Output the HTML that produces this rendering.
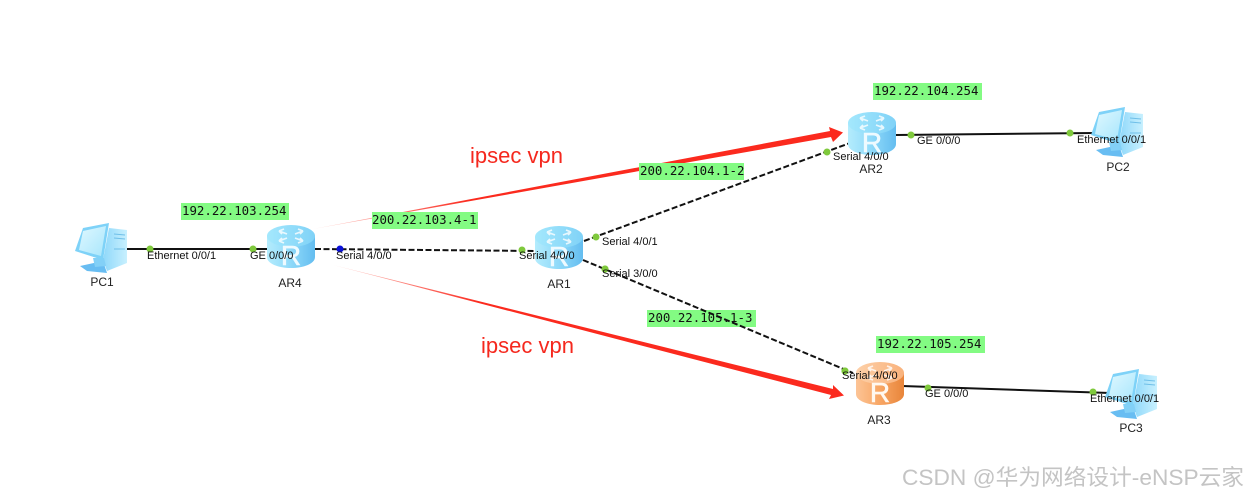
<!DOCTYPE html>
<html>
<head>
<meta charset="utf-8">
<style>
html,body{margin:0;padding:0;background:#fff;width:1248px;height:496px;overflow:hidden}
svg{display:block}
.l{font-family:"Liberation Sans",sans-serif;font-size:11px;fill:#111}
.n{font-family:"Liberation Sans",sans-serif;font-size:12px;fill:#222}
.m{font-family:"DejaVu Sans Mono","Liberation Mono",monospace;font-size:12.4px;fill:#111}
.v{font-family:"Liberation Sans",sans-serif;font-size:22px;fill:#f5281e}
</style>
</head>
<body>
<svg width="1248" height="496" viewBox="0 0 1248 496" xmlns="http://www.w3.org/2000/svg">
<defs>
<linearGradient id="bt" x1="0" y1="0" x2="1" y2="0"><stop offset="0" stop-color="#a4e8fd"/><stop offset="1" stop-color="#80d2f7"/></linearGradient>
<linearGradient id="bb" x1="0" y1="0" x2="1" y2="0"><stop offset="0" stop-color="#b4ecfd"/><stop offset=".5" stop-color="#8ed9f9"/><stop offset="1" stop-color="#64bdf0"/></linearGradient>
<linearGradient id="ot" x1="0" y1="0" x2="1" y2="0"><stop offset="0" stop-color="#fdd0a8"/><stop offset="1" stop-color="#f9b27c"/></linearGradient>
<linearGradient id="ob" x1="0" y1="0" x2="1" y2="0"><stop offset="0" stop-color="#fcc496"/><stop offset=".5" stop-color="#f8a664"/><stop offset="1" stop-color="#e8853a"/></linearGradient>
<linearGradient id="scr" x1="0" y1="0" x2="1" y2="1"><stop offset="0" stop-color="#dff8ff"/><stop offset="1" stop-color="#a8e6fc"/></linearGradient>
<linearGradient id="tw" x1="0" y1="0" x2="1" y2="0"><stop offset="0" stop-color="#8fd8fa"/><stop offset="1" stop-color="#c8f0fe"/></linearGradient>
<linearGradient id="au" gradientUnits="userSpaceOnUse" x1="313" y1="229" x2="470" y2="200"><stop offset="0" stop-color="#ffd8d4"/><stop offset="1" stop-color="#fb2a1e"/></linearGradient>
<linearGradient id="al" gradientUnits="userSpaceOnUse" x1="333" y1="265" x2="480" y2="302"><stop offset="0" stop-color="#ffd8d4"/><stop offset="1" stop-color="#fb2a1e"/></linearGradient>
<g id="arrows" fill="none" stroke="#fff" stroke-width="1.7" opacity=".8">
<path d="M-4 -12L-12 -15M-12 -15L-7 -17M-12 -15L-9 -12"/>
<path d="M4 -12L12 -15M12 -15L7 -17M12 -15L9 -12"/>
<path d="M-4 -8L-12 -5M-12 -5L-7 -3M-12 -5L-9 -8"/>
<path d="M4 -8L12 -5M12 -5L7 -3M12 -5L9 -8"/>
</g>
<g id="rb">
<path d="M-24 -10V11C-24 18 -12 22 0 22S24 18 24 11V-10Z" fill="url(#bb)"/>
<ellipse cx="0" cy="-10" rx="24" ry="11" fill="url(#bt)"/>
<use href="#arrows"/>
<text x="0" y="19" text-anchor="middle" font-family="Liberation Sans,sans-serif" font-size="28" fill="#eefaff" stroke="#eefaff" stroke-width=".6">R</text>
</g>
<g id="ro">
<path d="M-24 -10V11C-24 18 -12 22 0 22S24 18 24 11V-10Z" fill="url(#ob)"/>
<ellipse cx="0" cy="-10" rx="24" ry="11" fill="url(#ot)"/>
<use href="#arrows"/>
<text x="0" y="19" text-anchor="middle" font-family="Liberation Sans,sans-serif" font-size="28" fill="#fff8f0" stroke="#fff8f0" stroke-width=".6">R</text>
</g>
<g id="pc">
<polygon points="9,-20 27,-18 27,15 7,23 3,12" fill="url(#tw)"/>
<path d="M14 -14L25 -13M14 -10L25 -9M14 1L25 1" stroke="#6fbfe8" stroke-width="1"/>
<polygon points="-20,18 3,13 7,25 -13,23" fill="#68bdf2"/>
<polygon points="-7,10 4,10 6,18 -5,19" fill="#82d0f7"/>
<polygon points="-17,-20 9,-25 3,12 -25,3" fill="#7ed2f8"/>
<polygon points="-17,-17 6,-22 1,8 -21,2" fill="url(#scr)"/>
</g>
</defs>

<!-- links -->
<g stroke="#111" fill="none">
<line x1="127" y1="249" x2="270" y2="249" stroke-width="2"/>
<line x1="315" y1="249" x2="537" y2="251" stroke-width="2" stroke-dasharray="6 2.5"/>
<line x1="584" y1="241" x2="850" y2="143" stroke-width="2" stroke-dasharray="6 2.5"/>
<line x1="896" y1="135" x2="1095" y2="133" stroke-width="2"/>
<line x1="902" y1="386" x2="1110" y2="393" stroke-width="2"/>
</g>

<!-- routers -->
<use href="#rb" x="291" y="246"/>
<use href="#rb" x="559" y="247"/>
<use href="#rb" x="872" y="133"/>
<use href="#ro" x="880" y="383"/>

<!-- PCs -->
<use href="#pc" x="100" y="248"/>
<use href="#pc" x="1116" y="132"/>
<use href="#pc" x="1130" y="394"/>

<!-- green port dots -->
<g fill="#7fc93c">
<circle cx="150" cy="249" r="3.5"/>
<circle cx="253" cy="249" r="3.5"/>
<circle cx="522" cy="250" r="3.5"/>
<circle cx="596" cy="237" r="3.5"/>
<circle cx="605" cy="269" r="3.5"/>
<circle cx="827" cy="152" r="3.5"/>
<circle cx="911" cy="135" r="3.5"/>
<circle cx="1070" cy="133" r="3.5"/>
<circle cx="845" cy="371" r="3.5"/>
<circle cx="928" cy="388" r="3.5"/>
<circle cx="1093" cy="392" r="3.5"/>
</g>
<circle cx="340" cy="249" r="3.5" fill="#0a10d8"/>

<!-- ipsec arrows -->
<polygon points="313,229 830,131 829,127 843,132.5 833,142 831,137" fill="url(#au)"/>
<polygon points="333,265 833,389 833,385 844,395.5 829,399 831,395" fill="url(#al)"/>

<!-- green labels -->
<g fill="#83fb83">
<rect x="181" y="203" width="108" height="17"/>
<rect x="372" y="212" width="106" height="17"/>
<rect x="639" y="163" width="105" height="17"/>
<rect x="873" y="83" width="109" height="17"/>
<rect x="647" y="310" width="109" height="17"/>
<rect x="876" y="336" width="109" height="17"/>
</g>
<g>
<text x="182" y="215" class="m">192.22.103.254</text>
<text x="372" y="224" class="m">200.22.103.4-1</text>
<text x="640" y="175" class="m">200.22.104.1-2</text>
<text x="874" y="95" class="m">192.22.104.254</text>
<text x="648" y="322" class="m">200.22.105.1-3</text>
<text x="877" y="348" class="m">192.22.105.254</text>
</g>
<line x1="583" y1="260" x2="853" y2="373" stroke="#111" fill="none" stroke-width="2" stroke-dasharray="6 2.5"/>
<circle cx="845" cy="371" r="3.5" fill="#7fc93c"/>
<circle cx="605" cy="269" r="3.5" fill="#7fc93c"/>

<!-- interface labels -->
<text x="147" y="259" class="l">Ethernet 0/0/1</text>
<text x="250" y="259" class="l">GE 0/0/0</text>
<text x="336" y="259" class="l">Serial 4/0/0</text>
<text x="519" y="259" class="l">Serial 4/0/0</text>
<text x="602" y="245" class="l">Serial 4/0/1</text>
<text x="602" y="277" class="l">Serial 3/0/0</text>
<text x="833" y="160" class="l">Serial 4/0/0</text>
<text x="917" y="144" class="l">GE 0/0/0</text>
<text x="1077" y="143" class="l">Ethernet 0/0/1</text>
<text x="842" y="379" class="l">Serial 4/0/0</text>
<text x="925" y="397" class="l">GE 0/0/0</text>
<text x="1090" y="402" class="l">Ethernet 0/0/1</text>

<!-- node labels -->
<text x="102" y="286" class="n" text-anchor="middle">PC1</text>
<text x="290" y="287" class="n" text-anchor="middle">AR4</text>
<text x="559" y="288" class="n" text-anchor="middle">AR1</text>
<text x="871" y="173" class="n" text-anchor="middle">AR2</text>
<text x="1118" y="171" class="n" text-anchor="middle">PC2</text>
<text x="879" y="424" class="n" text-anchor="middle">AR3</text>
<text x="1131" y="432" class="n" text-anchor="middle">PC3</text>

<!-- vpn labels -->
<text x="470" y="163" class="v">ipsec vpn</text>
<text x="481" y="353" class="v">ipsec vpn</text>

<!-- watermark -->
<text x="902" y="485" font-family="Liberation Sans,'Noto Sans CJK SC',sans-serif" font-size="22" fill="#c4c4c4" textLength="342" lengthAdjust="spacingAndGlyphs">CSDN @华为网络设计-eNSP云家</text>
</svg>
</body>
</html>
